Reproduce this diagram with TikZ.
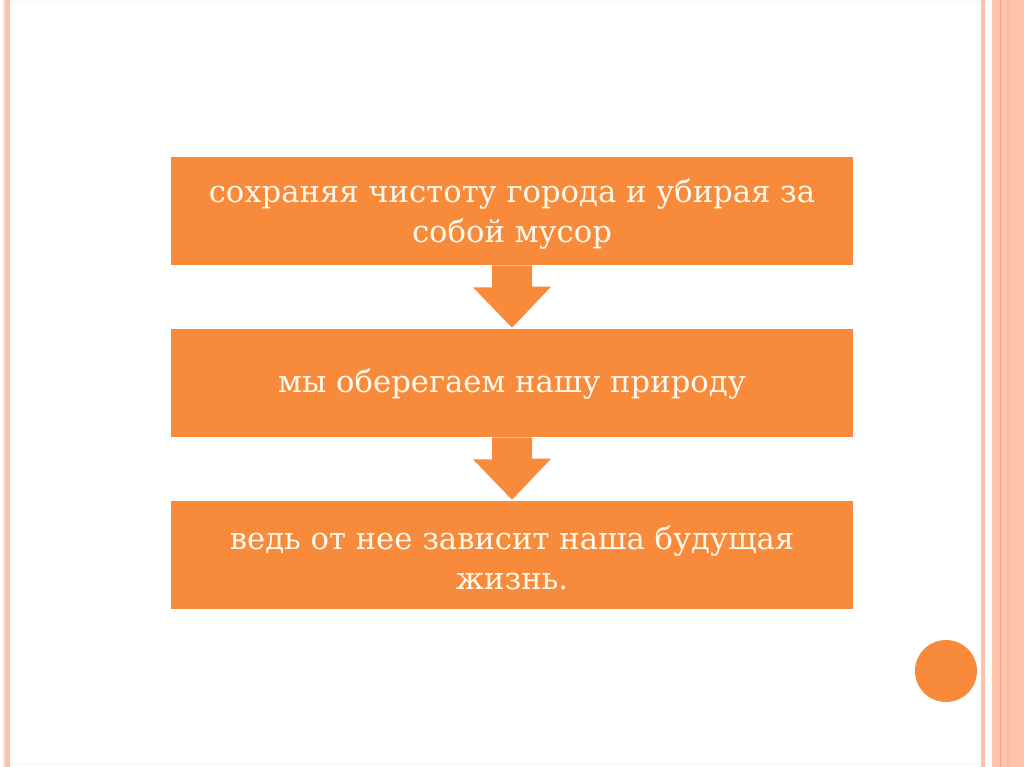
\documentclass[tikz,border=0pt]{standalone}
\usepackage{fontspec}
\setmainfont{DejaVu Serif}
\definecolor{boxor}{HTML}{F88B3B}
\definecolor{boxtext}{HTML}{FFF8EC}
\definecolor{stripe}{HTML}{FDC3AC}
\definecolor{stripel}{HTML}{FBE0D6}
\definecolor{stripedark}{HTML}{F2A27E}
\begin{document}
\begin{tikzpicture}[x=0.75pt,y=-0.75pt,
  flowbox/.style={fill=boxor,draw=none,minimum width=682*0.75pt,minimum height=108*0.75pt,
    text=boxtext,align=center,font=\fontsize{23}{30}\selectfont,inner sep=0pt},
  downarrow/.style={fill=boxor,draw=none}]
\useasboundingbox (0,0) rectangle (1024,767);
\fill[white] (0,0) rectangle (1024,767);
% frame
\draw[gray!8,line width=0.75pt] (3,1.5) -- (1024,1.5);
\draw[gray!8,line width=0.75pt] (3,764) -- (1024,764);
\fill[stripel] (3,0) rectangle (5,767);
\fill[stripe] (5,0) rectangle (10,767);
\fill[stripe] (981,0) rectangle (985,767);
\fill[stripe] (992,0) rectangle (1024,767);
\fill[stripedark] (999.5,0) rectangle (1001,767);
\fill[stripe!80!stripedark] (1007,0) rectangle (1009,767);
% boxes
\node[flowbox] (b1) at (512,211) {};
\node[flowbox] (b2) at (512,383) {};
\node[flowbox] (b3) at (512,555) {};
\node[flowbox,fill=none,minimum height=0pt] (t1) at (512,214) {сохраняя чистоту города и убирая за\\собой мусор};
\node[flowbox,fill=none,minimum height=0pt] (t2) at (512,384) {мы оберегаем нашу природу};
\node[flowbox,fill=none,minimum height=0pt] (t3) at (512,558) {ведь от нее зависит наша будущая\\жизнь.};
% arrows
\fill[downarrow] ([xshift=-20*0.75pt]b1.south) -- ++(0,22) -- ++(-19,0) -- ([yshift=1*0.75pt]b2.north) -- ++(39,-41) -- ++(-19,0) -- ([xshift=20*0.75pt]b1.south) -- cycle;
\fill[downarrow] ([xshift=-20*0.75pt]b2.south) -- ++(0,22) -- ++(-19,0) -- ([yshift=1*0.75pt]b3.north) -- ++(39,-41) -- ++(-19,0) -- ([xshift=20*0.75pt]b2.south) -- cycle;
% circle
\node[circle,fill=boxor,minimum size=62*0.75pt,inner sep=0pt] (c) at (946,671) {};
\end{tikzpicture}
\end{document}
